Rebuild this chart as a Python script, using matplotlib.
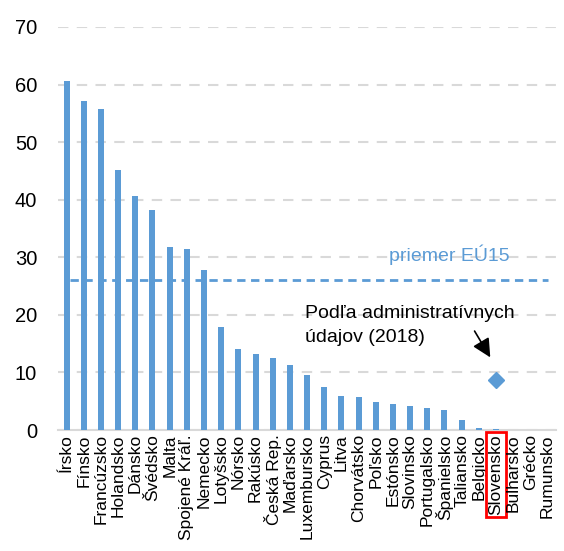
import matplotlib
matplotlib.use("Agg")
from matplotlib import pyplot as plt

plt.rcParams['font.family'] = ['Liberation Sans', 'DejaVu Sans']

# krajiny a hodnoty
krajiny = ['Írsko', 'Fínsko', 'Francúzsko', 'Holandsko', 'Dánsko', 'Švédsko', 'Malta',
           'Spojené Kráľ.', 'Nemecko', 'Lotyšsko', 'Nórsko', 'Rakúsko', 'Česká Rep.',
           'Maďarsko', 'Luxembursko', 'Cyprus', 'Litva', 'Chorvátsko', 'Poľsko',
           'Estónsko', 'Slovinsko', 'Portugalsko', 'Španielsko', 'Taliansko', 'Belgicko',
           'Slovensko', 'Bulharsko', 'Grécko', 'Rumunsko']
hodnoty = [60.7, 57.2, 55.7, 45.2, 40.7, 38.3, 31.7, 31.5, 27.8, 17.9, 14.1, 13.2, 12.5,
           11.3, 9.6, 7.5, 5.9, 5.8, 4.9, 4.5, 4.2, 3.8, 3.5, 1.8, 0.4, 0.2, 0, 0, 0]
priemer_eu15 = 26.0
admin_krajina = 'Slovensko'
admin_hodnota = 8.7

modra = '#5b9bd5'
siva = '#d9d9d9'

fig = plt.figure(figsize=(5.64, 5.51), dpi=100)
ax = fig.add_axes([0.1028, 0.2196, 0.8832, 0.7314])

x = range(len(krajiny))
ax.bar(x, hodnoty, width=0.35, color=modra, zorder=3)
ax.axhline(priemer_eu15, xmin=0.024, xmax=0.984, color=modra, linestyle=(0, (3, 2)),
           linewidth=2, zorder=4)
ix = krajiny.index(admin_krajina)
ax.plot([ix], [admin_hodnota], marker='D', markersize=8, color=modra, linestyle='none', zorder=5)

ax.text(18.8, 29.4, 'priemer EÚ15', color=modra, fontsize=14)
ax.text(13.9, 15.3, 'Podľa administratívnych\núdajov (2018)', fontsize=14,
        linespacing=1.55, va='baseline')
ax.annotate('', xy=(24.75, 12.2), xytext=(23.67, 17.6),
            arrowprops=dict(arrowstyle='-|>', color='black', lw=1.2, mutation_scale=28))

ax.set_xlim(-0.5, len(krajiny) - 0.5)
ax.set_ylim(0, 70)
ax.set_yticks(range(0, 71, 10))
ax.yaxis.grid(True, color=siva, linestyle=(0, (5, 4)), linewidth=1.5, zorder=0)
ax.tick_params(axis='y', length=0, labelsize=14.5, pad=15)
ax.tick_params(axis='x', length=0, labelsize=12.5, pad=3)
ax.set_xticks(list(x))
ax.set_xticklabels(krajiny, rotation=90)

for s in ['top', 'right', 'left']:
    ax.spines[s].set_visible(False)
ax.spines['bottom'].set_color(siva)
ax.spines['bottom'].set_linewidth(1.5)

lbl = ax.get_xticklabels()[ix]
lbl.set_bbox(dict(facecolor='none', edgecolor='red', linewidth=2, pad=1.5))

fig.savefig('out.png', dpi=100)
